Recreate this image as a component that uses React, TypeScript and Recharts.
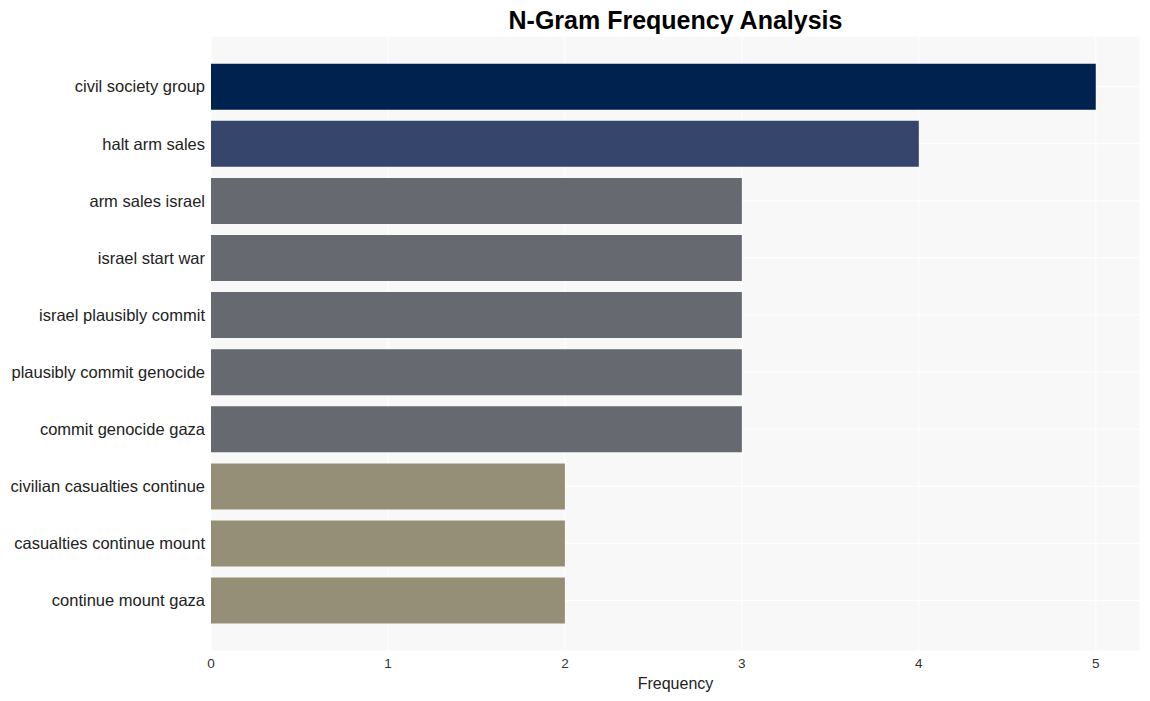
import React from 'react';
import { BarChart, Bar, XAxis, YAxis, CartesianGrid, Cell } from 'recharts';

const categories = [
  'civil society group',
  'halt arm sales',
  'arm sales israel',
  'israel start war',
  'israel plausibly commit',
  'plausibly commit genocide',
  'commit genocide gaza',
  'civilian casualties continue',
  'casualties continue mount',
  'continue mount gaza',
];
const frequencies = [5, 4, 3, 3, 3, 3, 3, 2, 2, 2];
const barColors = [
  '#00224e', '#35456c', '#666970', '#666970', '#666970',
  '#666970', '#666970', '#958f78', '#958f78', '#958f78',
];
const xTicks = [0, 1, 2, 3, 4, 5];

const data = categories.map((c, i) => ({ name: c, value: frequencies[i] }));

const FONT = '"Liberation Sans", Arial, sans-serif';

const XTick = (props: any) => {
  const { x, y, payload } = props;
  return (
    <text x={x} y={y + 12} textAnchor="middle" fontSize={13.5} fill="#333" fontFamily={FONT}>
      {payload.value}
    </text>
  );
};

export default function App() {
  return (
    <div style={{ position: 'absolute', left: 0, top: 0, width: 1150, height: 701, fontFamily: FONT }}>
      <div
        style={{
          position: 'absolute',
          left: 211,
          width: 929,
          top: 4,
          textAlign: 'center',
          fontWeight: 'bold',
          fontSize: 25,
          lineHeight: '32px',
          color: '#000',
        }}
      >
        N-Gram Frequency Analysis
      </div>
      <BarChart
        width={1150}
        height={701}
        data={data}
        layout="vertical"
        margin={{ top: 36, right: 10, bottom: 0, left: 0 }}
        barCategoryGap="10%"
      >
        <CartesianGrid fill="#f8f8f8" stroke="#ffffff" strokeWidth={1} />
        <XAxis
          type="number"
          domain={[0, 5.25]}
          ticks={xTicks}
          axisLine={false}
          tickLine={false}
          tickSize={0}
          tickMargin={5}
          height={50}
          tick={<XTick />}
          label={{ value: 'Frequency', position: 'insideBottom', offset: 12, fontSize: 16, fill: '#222', fontFamily: FONT }}
        />
        <YAxis
          type="category"
          dataKey="name"
          width={211}
          axisLine={false}
          tickLine={false}
          tickSize={0}
          tickMargin={6}
          interval={0}
          padding={{ top: 22, bottom: 22 }}
          tick={{ fontSize: 16.5, fill: '#222', fontFamily: FONT }}
        />
        <Bar dataKey="value" isAnimationActive={false}>
          {data.map((d, i) => (
            <Cell key={d.name} fill={barColors[i]} />
          ))}
        </Bar>
      </BarChart>
    </div>
  );
}
